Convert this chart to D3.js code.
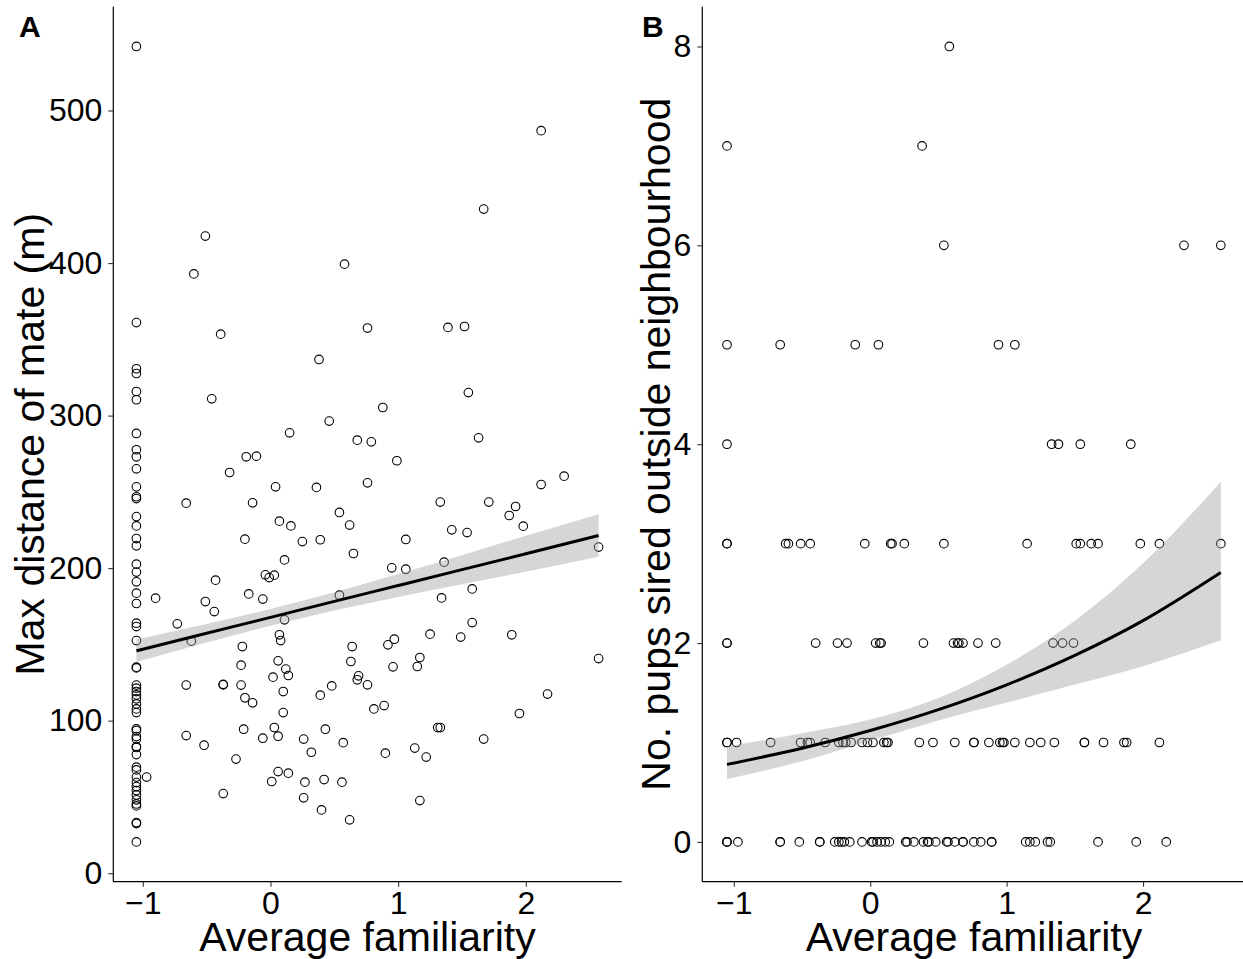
<!DOCTYPE html>
<html>
<head>
<meta charset="utf-8">
<script src="https://cdn.jsdelivr.net/npm/d3@7"></script>
<style>
  body { margin: 0; background: #fff; }
  text { font-family: "Liberation Sans", Arial, Helvetica, sans-serif; }
</style>
</head>
<body>
<script>
// panel A: [average familiarity, max distance of mate (m)]
var ptsA = [
  [-1.05,542],[-1.05,361],[-1.05,330.7],[-1.05,327.6],[-1.05,315.8],[-1.05,310.4],[-1.05,288.3],
  [-1.05,277.6],[-1.05,273],[-1.05,265.1],[-1.05,253.3],[-1.05,246.8],[-1.05,245.6],[-1.05,233.8],
  [-1.05,227.7],[-1.05,219.4],[-1.05,214.6],[-1.05,202.6],[-1.05,197.4],[-1.05,191],[-1.05,183.6],
  [-1.05,176.8],[-1.05,163.9],[-1.05,161.7],[-1.05,152.5],[-1.05,135.1],[-1.05,134.6],[-1.05,123.3],
  [-1.05,121.3],[-1.05,119.1],[-1.05,116.9],[-1.05,114.3],[-1.05,111],[-1.05,107.7],[-1.05,105.3],
  [-1.05,94.6],[-1.05,93.5],[-1.05,89.6],[-1.05,87.9],[-1.05,83],[-1.05,82.4],[-1.05,77.8],
  [-1.05,69.5],[-1.05,67.7],[-1.05,63],[-1.05,59.4],[-1.05,56.8],[-1.05,54.2],[-1.05,51.3],
  [-1.05,48.1],[-1.05,45.4],[-1.05,44.1],[-1.05,33.2],[-1.05,32.5],[-1.05,20.5],
  [-0.51,417.7],[-0.6,392.9],[0.58,399.3],[-0.39,353.4],[0.38,336.8],[-0.46,311],[0.46,296.4],
  [0.68,283.9],[0.15,288.7],[-0.19,273],[-0.11,273.4],[-0.32,262.7],[0.04,253.3],[0.36,252.9],
  [-0.66,242.6],[-0.14,242.8],[0.54,236.5],[0.07,230.8],[0.16,227.7],[0.62,228.2],[-0.2,219],
  [0.25,217.4],[0.39,218.6],[0.65,209.6],[0.11,205.4],[-0.43,192.1],[-0.04,195.6],[-0.01,193.8],
  [0.03,195.4],[-0.9,180.3],[-0.17,183.1],[-0.51,178.1],[-0.06,179.7],[0.54,182.3],[-0.44,171.5],
  [-0.73,163.5],[-0.62,152.1],[0.11,166.1],[0.07,156.3],[0.08,152.5],[-0.22,148.6],[0.64,148.6],
  [-0.23,136.4],[0.06,139.2],[0.63,138.8],[0.12,133.8],[0.14,129.6],[0.02,128.5],[0.68,126.8],
  [0.69,129.4],[-0.66,123.3],[-0.37,123.5],[-0.37,123.8],[-0.23,123.3],[0.48,122.8],[0.1,119.1],
  [-0.2,115],[-0.14,111.7],[0.39,116.7],[0.1,105.3],[-0.21,94.4],[0.03,95.5],[0.43,94.4],
  [-0.66,90.2],[-0.06,88.5],[0.06,89.8],[-0.52,83.9],[0.26,87.9],[0.57,85.6],[0.32,79.3],
  [-0.27,74.8],[-0.97,63],[0.06,66.6],[0.14,65.6],[0.01,60.1],[0.27,59.7],[0.42,61.4],[0.56,59.7],
  [-0.37,52.2],[0.26,49.4],[0.4,41.5],[0.62,35],
  [2.12,486.8],[1.67,435.4],[0.76,357.4],[1.39,357.8],[1.52,358.4],[1.55,315.1],[0.88,305.3],
  [0.79,282.8],[1.63,285.4],[0.99,270.4],[0.76,255.9],[2.3,260.3],[2.12,254.8],[1.33,243.3],
  [1.71,243.3],[1.92,240.4],[1.87,234.5],[1.98,227.5],[1.42,225.1],[1.54,223.3],[1.06,218.8],
  [0.95,200.2],[1.06,199.3],[1.36,203.9],[2.57,213.8],[1.58,186.4],[1.34,180.5],[1.58,164.3],
  [1.25,156.7],[1.49,154.8],[1.89,156.3],[0.92,149.7],[0.97,153.4],[1.17,141.4],[1.15,135.5],
  [0.96,135.3],[2.57,140.7],[0.76,123.5],[0.81,107.7],[0.89,109.9],[2.17,117.4],[1.95,104.7],
  [1.31,95.5],[1.33,95.5],[1.67,87.9],[0.9,78.7],[1.13,82],[1.22,76.1],[1.17,47.6]
];

// panel B: average familiarity for each count of pups sired outside neighbourhood
var pups8 = [0.58];
var pups7 = [-1.05, 0.38];
var pups6 = [0.54, 2.30, 2.57];
var pups5 = [-1.05, -0.66, -0.11, 0.06, 0.94, 1.06];
var pups4 = [-1.05, 1.33, 1.38, 1.54, 1.91];
var pups3 = [-1.05, -1.05, -0.62, -0.60, -0.51, -0.44, -0.04, 0.15, 0.16, 0.25, 0.54, 1.15, 1.51, 1.54, 1.62, 1.67, 1.98, 2.12, 2.57];
var pups2 = [-1.05, -1.05, -0.40, -0.24, -0.17, 0.04, 0.07, 0.08, 0.39, 0.61, 0.64, 0.65, 0.68, 0.79, 0.92, 1.34, 1.41, 1.49];
var pups1 = [-1.05, -1.05, -0.98, -0.73, -0.51, -0.46, -0.44, -0.33, -0.23, -0.20, -0.18, -0.14, -0.06, -0.02, 0.02, 0.10, 0.12, 0.13,
  0.36, 0.46, 0.62, 0.76, 0.76, 0.87, 0.95, 0.97, 0.98, 1.06, 1.17, 1.25, 1.35, 1.57, 1.57, 1.71, 1.86, 1.88, 2.12];
var pups0 = [-1.05, -1.05, -1.05, -0.97, -0.66, -0.66, -0.52, -0.37, -0.37, -0.26, -0.23, -0.21, -0.19, -0.15, -0.06, 0.01, 0.02,
  0.05, 0.08, 0.11, 0.14, 0.26, 0.27, 0.32, 0.39, 0.42, 0.43, 0.48, 0.56, 0.57, 0.62, 0.68, 0.68, 0.76, 0.81, 0.89, 0.89,
  1.14, 1.17, 1.21, 1.30, 1.32, 1.67, 1.95, 2.17];

// fitted lines and confidence bands
var fitX = [-1.05, -0.5, 0, 0.5, 1, 1.5, 2, 2.57];
var fitA = [145.8, 157.3, 167.7, 178.2, 188.6, 199.0, 209.4, 221.4];
var loA  = [138.4, 151.3, 162.2, 172.2, 181.1, 189.5, 197.6, 207.4];
var hiA  = [153.2, 163.3, 173.2, 184.2, 196.1, 208.5, 221.2, 235.4];
var fitB = [0.78, 0.942, 1.12, 1.33, 1.58, 1.876, 2.226, 2.71];
var loB  = [0.632, 0.811, 1.018, 1.222, 1.401, 1.583, 1.768, 2.028];
var hiB  = [0.962, 1.094, 1.232, 1.448, 1.781, 2.224, 2.802, 3.622];

var xTicks = [-1, 0, 1, 2];
var yTicksA = [0, 100, 200, 300, 400, 500];
var yTicksB = [0, 2, 4, 6, 8];

var ptsB = [];
[pups0, pups1, pups2, pups3, pups4, pups5, pups6, pups7, pups8].forEach(function(row, k){
    row.forEach(function(f){ ptsB.push([f, k]); });
});

var W = 1243, H = 959, plotTop = 6.7, plotBottom = 881.7;
var svg = d3.select('body').append('svg').attr('width', W).attr('height', H);

var expand = function(ext){
    var pad = (ext[1] - ext[0]) * 0.05;
    return [ext[0] - pad, ext[1] + pad];
};

var draw = function(opt){
    var x = d3.scaleLinear().domain(expand(d3.extent(opt.pts, function(d){ return d[0]; }))).range([opt.left, opt.right]);
    var y = d3.scaleLinear().domain(expand(d3.extent(opt.pts, function(d){ return d[1]; }))).range([plotBottom, plotTop]);
    var g = svg.append('g');

    g.selectAll('.pt').data(opt.pts).enter().append('circle')
        .attr('cx', function(d){ return x(d[0]); })
        .attr('cy', function(d){ return y(d[1]); })
        .attr('r', 4.3)
        .attr('fill', 'none')
        .attr('stroke', 'black')
        .attr('stroke-width', 1.1);

    var band = fitX.map(function(v, i){ return {x: v, lo: opt.lo[i], hi: opt.hi[i], fit: opt.fit[i]}; });
    g.append('path').datum(band)
        .attr('d', d3.area().curve(d3.curveMonotoneX)
            .x(function(d){ return x(d.x); })
            .y0(function(d){ return y(d.lo); })
            .y1(function(d){ return y(d.hi); }))
        .attr('fill', '#999999').attr('fill-opacity', 0.4);
    g.append('path').datum(band)
        .attr('d', d3.line().curve(d3.curveMonotoneX)
            .x(function(d){ return x(d.x); })
            .y(function(d){ return y(d.fit); }))
        .attr('fill', 'none').attr('stroke', 'black').attr('stroke-width', 3);

    var xa = g.append('g').attr('transform', 'translate(0,' + plotBottom + ')')
        .call(d3.axisBottom(x).tickValues(xTicks).tickSize(5).tickPadding(5).tickFormat(d3.format('d')));
    var ya = g.append('g').attr('transform', 'translate(' + opt.left + ',0)')
        .call(d3.axisLeft(y).tickValues(opt.yTicks).tickSize(5).tickPadding(6).tickFormat(d3.format('d')));
    [xa, ya].forEach(function(a){
        a.select('.domain').attr('stroke', 'black').attr('stroke-width', 1.2);
        a.selectAll('.tick line').attr('stroke', '#333').attr('stroke-width', 1.1);
        a.selectAll('.tick text').attr('fill', 'black').style('font-size', '32px');
    });
    xa.select('.domain').attr('d', 'M' + opt.left + ',0H' + opt.right);
    ya.select('.domain').attr('d', 'M0,' + plotBottom + 'V' + plotTop);

    g.append('text').attr('x', (opt.left + opt.right) / 2).attr('y', 951)
        .attr('text-anchor', 'middle').style('font-size', '41px').text('Average familiarity');
    g.append('text').attr('transform', 'translate(' + opt.titleX + ',' + (plotTop + plotBottom) / 2 + ') rotate(-90)')
        .attr('text-anchor', 'middle').style('font-size', '41px').text(opt.yTitle);
    g.append('text').attr('x', opt.tagX).attr('y', 37)
        .style('font-size', '30px').style('font-weight', 'bold').text(opt.tag);
};

draw({pts: ptsA, left: 113.3, right: 621.7, yTicks: yTicksA, fit: fitA, lo: loA, hi: hiA,
      yTitle: 'Max distance of mate (m)', titleX: 44, tag: 'A', tagX: 19});
draw({pts: ptsB, left: 702.3, right: 1245.5, yTicks: yTicksB, fit: fitB, lo: loB, hi: hiB,
      yTitle: 'No. pups sired outside neighbourhood', titleX: 670, tag: 'B', tagX: 642});
</script>
</body>
</html>
